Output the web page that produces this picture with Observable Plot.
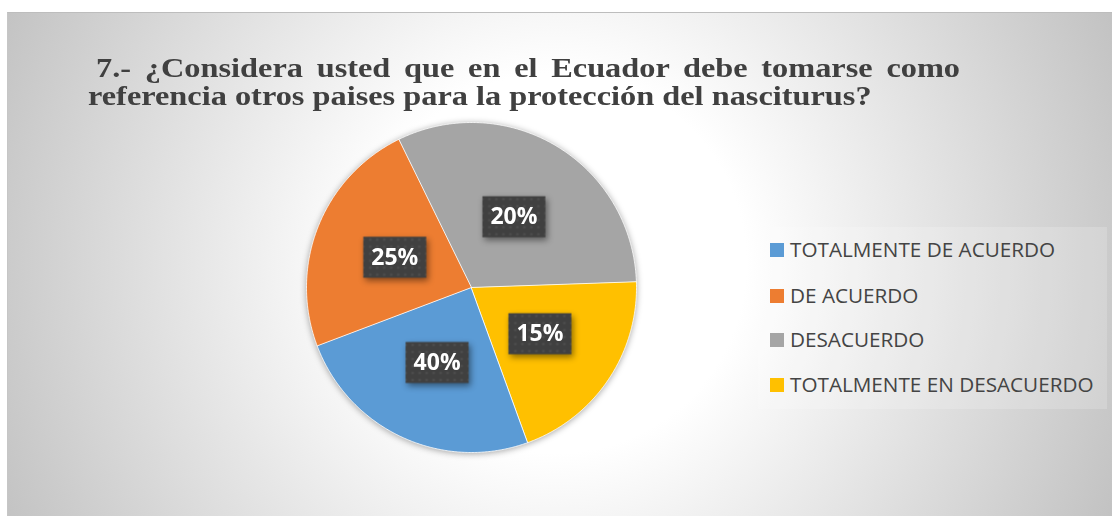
<!DOCTYPE html>
<html>
<head>
<meta charset="utf-8">
<script src="https://cdn.jsdelivr.net/npm/d3@7"></script>
<script src="https://cdn.jsdelivr.net/npm/@observablehq/plot@0.6"></script>
<style>
  html, body { margin: 0; padding: 0; background: #fff; }
  #wrap { position: relative; width: 1112px; height: 516px; overflow: hidden; background: #fff; }
  #frame { position: absolute; left: 7px; top: 12px; width: 1110px; height: 520px;
    border-top: 1px solid #bdbdbd; border-left: 1px solid #c6c6c6;
    background: radial-gradient(circle 640px at 548px 250px, #ffffff 0px, #ffffff 190px, #bebebe 640px); }
  #title { position: absolute; left: 88px; top: 53.5px; width: 755px; font-family: "Liberation Serif", "Times New Roman", serif;
    font-weight: bold; font-size: 28px; line-height: 28px; color: #404040; transform: scaleX(1.155); transform-origin: 0 0; }
  #title .l1 { text-align: justify; text-align-last: justify; padding-left: 7px; white-space: nowrap; }
  #title .l2 { white-space: nowrap; }
  #legendbox { position: absolute; left: 758px; top: 227px; width: 349px; height: 182px; background: rgba(255,255,255,0.18); }
  .item { position: absolute; left: 770px; font-family: "Open Sans", sans-serif; font-size: 20.7px; line-height: 20.7px; color: #444; white-space: nowrap; }
  .item .sw { position: absolute; left: 0; width: 14px; height: 14px; top: 3.5px; }
  .item .tx { position: absolute; left: 20px; top: 0; }
  #chart { position: absolute; left: 301px; top: 117px; }
  #chart svg { overflow: visible; background: transparent; }
</style>
</head>
<body>
<div id="wrap">
  <div id="frame"></div>
  <div id="title"><div class="l1">7.- ¿Considera usted que en el Ecuador debe tomarse como</div><div class="l2">referencia otros paises para la protección del nasciturus?</div></div>
  <div id="legendbox"></div>
  <div id="legend"></div>
  <div id="chart"></div>
</div>
<script>
// ---- data ----
const categories = ["TOTALMENTE DE ACUERDO", "DE ACUERDO", "DESACUERDO", "TOTALMENTE EN DESACUERDO"];
const shares = [24.8, 23.5, 31.7, 20.0];          // slice sizes as drawn in the picture
const labels = ["40%", "25%", "20%", "15%"];        // data labels as printed
const colors = ["#5B9BD5", "#ED7D31", "#A5A5A5", "#FFC000"];
const firstSliceAngle = 160;                        // degrees, clockwise from 12 o'clock
const legendCenters = [250, 296, 340, 385];

// ---- pie geometry from the data ----
const a0 = firstSliceAngle * Math.PI / 180;
const arcs = d3.pie().sort(null).startAngle(a0).endAngle(a0 + 2 * Math.PI)(shares);
const slicePts = [];
arcs.forEach((a, i) => {
  const cat = categories[i];
  slicePts.push({cat, x: 0, y: 0});
  const n = Math.max(2, Math.ceil((a.endAngle - a.startAngle) / (Math.PI / 360)));
  for (let k = 0; k <= n; k++) {
    const t = a.startAngle + (a.endAngle - a.startAngle) * k / n;
    slicePts.push({cat, x: Math.sin(t), y: Math.cos(t)});
  }
});
const labelPts = arcs.map((a, i) => {
  const m = (a.startAngle + a.endAngle) / 2;
  return {cat: categories[i], label: labels[i], x: 0.5 * Math.sin(m), y: 0.5 * Math.cos(m)};
});

const boxSymbol = { draw(ctx) { ctx.rect(-31.5, -20.5, 63, 41); } };

const svg = Plot.plot({
  width: 340, height: 340, margin: 5,
  x: {domain: [-1, 1], axis: null},
  y: {domain: [-1, 1], axis: null},
  color: {domain: categories, range: colors},
  style: {background: "transparent", overflow: "visible"},
  marks: [
    Plot.line(slicePts, {x: "x", y: "y", z: "cat", fill: "cat", stroke: "#ffffff", strokeWidth: 0.8, curve: "linear-closed"}),
    Plot.dot(labelPts, {x: "x", y: "y", symbol: boxSymbol, r: 10, fill: "#404040", stroke: null}),
    Plot.text(labelPts, {x: "x", y: "y", text: "label", fill: "#ffffff", fontSize: 23, fontWeight: "bold", fontFamily: "Open Sans, sans-serif"})
  ]
});

// pattern + shadows
const ns = "http://www.w3.org/2000/svg";
const defs = document.createElementNS(ns, "defs");
defs.innerHTML = `<pattern id="dots" width="7" height="7" patternUnits="userSpaceOnUse">
  <rect width="7" height="7" fill="#404040"/><rect x="2.5" y="2.5" width="2" height="2" fill="#545454"/></pattern>`;
svg.insertBefore(defs, svg.firstChild);
const gLine = svg.querySelector('g[aria-label="line"]');
if (gLine) gLine.style.filter = "drop-shadow(0px 1px 3px rgba(0,0,0,0.35))";
const gDot = svg.querySelector('g[aria-label="dot"]');
if (gDot) {
  gDot.style.filter = "drop-shadow(2px 3px 3px rgba(0,0,0,0.45))";
  gDot.querySelectorAll("path").forEach(p => p.setAttribute("fill", "url(#dots)"));
}
document.getElementById("chart").appendChild(svg);

// legend
const F = 20.7;
const leg = document.getElementById("legend");
categories.forEach((c, i) => {
  const d = document.createElement("div");
  d.className = "item";
  d.style.top = (legendCenters[i] - 0.53 * F) + "px";
  d.innerHTML = `<span class="sw" style="background:${colors[i]}"></span><span class="tx">${c}</span>`;
  leg.appendChild(d);
});
</script>
</body>
</html>
